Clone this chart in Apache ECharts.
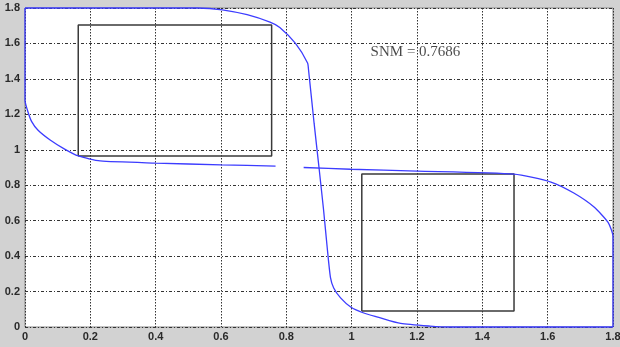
<!DOCTYPE html>
<html>
<head>
<meta charset="utf-8">
<script src="https://cdn.jsdelivr.net/npm/echarts@6/dist/echarts.min.js"></script>
<style>
html,body{margin:0;padding:0;background:#d2d2d2;}
#c{width:620px;height:347px;}
</style>
</head>
<body>
<div id="c"></div>
<script>
const xTicks = [0, 0.2, 0.4, 0.6, 0.8, 1, 1.2, 1.4, 1.6, 1.8];
const yTicks = [0, 0.2, 0.4, 0.6, 0.8, 1, 1.2, 1.4, 1.6, 1.8];

const curveA = [
  [0,1.8],[0.3,1.8],[0.528,1.8],[0.604,1.79],[0.68,1.762],[0.75,1.72],[0.78,1.69],
  [0.828,1.60],[0.865,1.49],[0.868,1.45],[0.885,1.15],[0.9,0.9],[0.914,0.66],
  [0.925,0.45],[0.935,0.28],[0.945,0.22],
  [0.966,0.164],[0.997,0.113],[1.037,0.079],[1.08,0.056],[1.15,0.02],[1.24,0.005],
  [1.3,0],[1.8,0]
];

const curveB = [
  [0,1.8],[0,1.28],[0.008,1.22],[0.02,1.16],[0.04,1.11],[0.077,1.055],[0.12,1.005],
  [0.163,0.965],[0.23,0.937],[0.4,0.925],[0.6,0.915],[0.767,0.908],
  [null,null],
  [0.853,0.90],[0.997,0.89],[1.2,0.88],[1.497,0.863],[1.61,0.818],[1.68,0.756],
  [1.742,0.677],[1.785,0.59],[1.8,0.51],[1.8,0]
];

const box1 = [[0.163,0.965],[0.755,0.965],[0.755,1.704],[0.163,1.704],[0.163,0.965]];
const box2 = [[1.031,0.09],[1.497,0.09],[1.497,0.863],[1.031,0.863],[1.031,0.09]];

const snmLabel = 'SNM = 0.7686';
const snmPos = [1.058, 1.551];

const chart = echarts.init(document.getElementById('c'));
const axisLabelStyle = {color:'#2a2a2a', fontSize:11, fontFamily:'Liberation Sans', fontWeight:'bold'};
chart.setOption({
  backgroundColor:'#d2d2d2',
  animation:false,
  grid:{left:25, right:7, top:8, bottom:20, outerBoundsMode:'none', containLabel:false,
        show:true, backgroundColor:'#ffffff', borderColor:'#888', borderWidth:1},
  xAxis:{
    type:'value', min:0, max:1.8, interval:0.2,
    axisLine:{show:false}, axisTick:{show:false},
    axisLabel:Object.assign({margin:4, formatter:v=>String(+v.toFixed(1))}, axisLabelStyle),
    splitLine:{show:true, lineStyle:{color:'#333', width:1, type:[1.5,1.5]}}
  },
  yAxis:{
    type:'value', min:0, max:1.8, interval:0.2,
    axisLine:{show:false}, axisTick:{show:false},
    axisLabel:Object.assign({margin:5, formatter:v=>String(+v.toFixed(1))}, axisLabelStyle),
    splitLine:{show:true, lineStyle:{color:'#333', width:1, type:[3,2,1,2]}}
  },
  series:[
    {type:'line', data:box1, symbol:'none', lineStyle:{color:'#3a3a3a', width:1.5}, z:3},
    {type:'line', data:box2, symbol:'none', lineStyle:{color:'#3a3a3a', width:1.5}, z:3},
    {type:'line', data:curveA, symbol:'none', smooth:0.2, lineStyle:{color:'#3c3cff', width:1.3}, z:4, clip:false},
    {type:'line', data:curveB, symbol:'none', smooth:0.2, connectNulls:false, lineStyle:{color:'#3c3cff', width:1.3}, z:4, clip:false},
    {type:'scatter', data:[snmPos], symbolSize:0, z:5,
      label:{show:true, position:'right', distance:0, formatter:snmLabel, color:'#1a1a1a', fontSize:15, fontFamily:'Liberation Serif'}}
  ]
});
</script>
</body>
</html>
